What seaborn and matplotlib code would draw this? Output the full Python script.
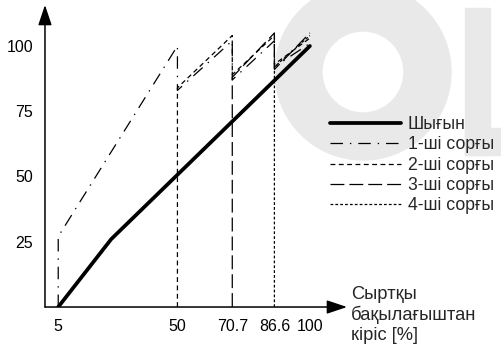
import numpy as np
import pandas as pd
import matplotlib
matplotlib.use("Agg")
import matplotlib.pyplot as plt
from matplotlib.patches import Wedge, Rectangle
import seaborn as sns

# input from external controller [%] vs. speed [%]
total_x = [5, 25, 100]
total_y = [0, 26, 100]

pump1_x = [5, 5, 50, 50, 70.7, 70.7, 86.6, 86.6, 100]
pump1_y = [0, 27, 100, 83, 102, 87, 102, 92, 101]

pump2_x = [50, 50, 70.7, 70.7, 86.6, 86.6, 100]
pump2_y = [0, 84, 104, 89, 104, 93, 103]

pump3_x = [70.7, 70.7, 86.6, 86.6, 100]
pump3_y = [0, 88, 105, 91, 105]

pump4_x = [86.6, 86.6, 100]
pump4_y = [0, 92, 104]

labels = ["Шығын", "1-ші сорғы", "2-ші сорғы", "3-ші сорғы", "4-ші сорғы"]
xticks = [5, 50, 70.7, 86.6, 100]
xtick_labels = ["5", "50", "70.7", "86.6", "100"]
yticks = [25, 50, 75, 100]

sns.set_theme(style="white")
plt.rcParams["font.family"] = ["Liberation Sans", "DejaVu Sans"]
plt.rcParams["lines.scale_dashes"] = False

fig = plt.figure(figsize=(5.02, 3.45), dpi=100)

# faint watermark in the background
wm = "#e9e9e9"
fig.add_artist(Wedge((3.63, 2.73), 0.88, 0, 360, width=0.47, color=wm,
                     transform=fig.dpi_scale_trans, zorder=0))
fig.add_artist(Rectangle((4.65, 1.90), 0.25, 1.47, color=wm,
                         transform=fig.dpi_scale_trans, zorder=0))
fig.add_artist(Rectangle((4.65, 1.90), 0.40, 0.27, color=wm,
                         transform=fig.dpi_scale_trans, zorder=0))

ax = fig.add_axes([0.0896, 0.1101, 0.6016, 0.8754])
ax.patch.set_alpha(0)

series = [
    (total_x, total_y, "-", 2.7),
    (pump1_x, pump1_y, (0, (9, 5, 1, 5)), 0.9),
    (pump2_x, pump2_y, (0, (3.5, 2.5)), 0.9),
    (pump3_x, pump3_y, (0, (10, 3.6)), 0.9),
    (pump4_x, pump4_y, (0, (2, 1.5)), 0.9),
]
for (xs, ys, ls, lw), lab in zip(series, labels):
    df = pd.DataFrame({"x": xs, "y": ys})
    sns.lineplot(data=df, x="x", y="y", sort=False, estimator=None,
                 color="black", linestyle=ls, lw=lw, label=lab, ax=ax, legend=False)

ax.set_xlim(0, 114)
ax.set_ylim(0, 115.7)
ax.set_xticks(xticks)
ax.set_xticklabels(xtick_labels)
ax.set_yticks(yticks)
ax.tick_params(length=0, pad=8.5, labelsize=11.5, colors="black")
ax.set_xlabel("")
ax.set_ylabel("")
for s in ax.spines.values():
    s.set_visible(False)

arrow = dict(arrowstyle="-|>,head_length=0.95,head_width=0.32", color="black",
             lw=1.1, mutation_scale=13, shrinkA=0, shrinkB=0)
ax.annotate("", xy=(0, 1), xytext=(0, 0), xycoords="axes fraction", arrowprops=arrow)
ax.annotate("", xy=(1, 0), xytext=(0, 0), xycoords="axes fraction", arrowprops=arrow)

fig.text(351 / 502, 1 - 315 / 345, "Сыртқы\nбақылағыштан\nкіріс [%]",
         ha="left", va="center", fontsize=13.2, linespacing=1.18)

handles, labs = ax.get_legend_handles_labels()
ax.legend(handles, labs, loc="upper left", bbox_to_anchor=(330 / 502, 1 - 116 / 345),
          bbox_transform=fig.transFigure, frameon=False, fontsize=12.7,
          handlelength=4.0, handletextpad=0.42, labelspacing=0.19,
          borderpad=0, borderaxespad=0)

fig.savefig("out.png", dpi=100)
